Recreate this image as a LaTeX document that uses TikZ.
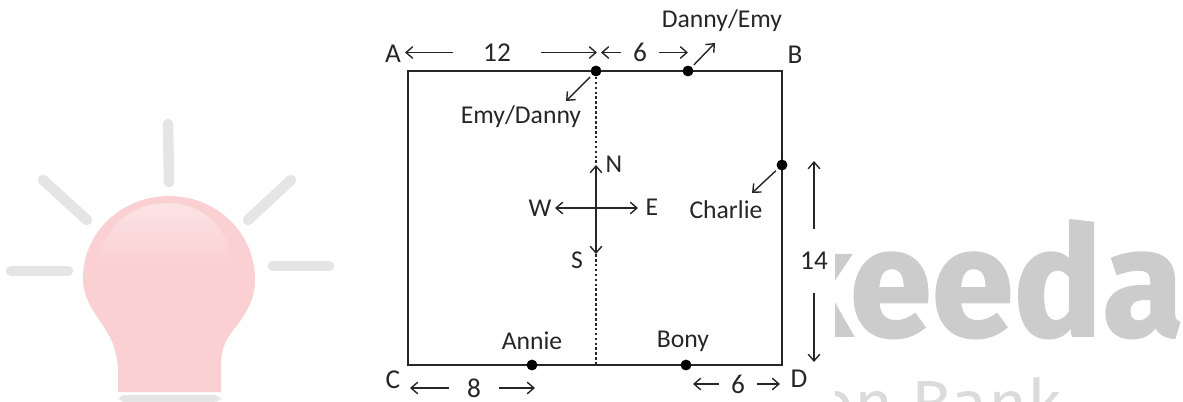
\documentclass[tikz,border=0pt]{standalone}
\usepackage{fontspec}
\setmainfont{Carlito}
\newfontfamily\markfont{Fira Sans}[BoldFeatures={FakeBold=1.2,FakeStretch=0.97}]
\usetikzlibrary{arrows.meta}
\definecolor{inkc}{HTML}{262626}
\definecolor{bulbc}{HTML}{FAD0D3}
\definecolor{rayc}{HTML}{E5E5E5}
\definecolor{markc}{HTML}{CCCCCC}
\tikzset{
  lbl/.style={text=inkc, font=\fontsize{14.6pt}{16pt}\selectfont, inner sep=0pt},
  numlbl/.style={text=inkc, font=\fontsize{15.5pt}{17pt}\selectfont, inner sep=0pt},
  person/.style={circle, fill=black, inner sep=0pt, minimum size=6.2pt},
  arr/.style={->, inkc, line width=0.8pt, >={Straight Barb[length=3.8pt,width=6.6pt]}},
  ray/.style={rayc, line width=6pt, line cap=round}
}

\begin{document}
\begin{tikzpicture}[x=0.02cm, y=-0.02cm]
  \useasboundingbox (0,0) rectangle (1183,402);

  % Draw bulb and rays
  \foreach \i/\x/\y/\u/\v in {top/168/124/169/182, upl/43/180/87/220, upr/291/180/248/220, lef/11/271/68/271, rig/273/266/329/266} {
    \draw[ray] (\x,\y) -- (\u,\v);
  }
  \fill[bulbc] (118,392) -- (118,368) .. controls (116,340) and (105,330) .. (96,315)
    .. controls (86,300) and (83,290) .. (83,278) .. controls (83,232) and (122,196) .. (169,196)
    .. controls (216,196) and (255,232) .. (255,280) .. controls (255,300) and (245,315) .. (235,328)
    .. controls (225,340) and (221,350) .. (221,365) -- (221,392) -- cycle;
  \shade[top color=white!40!bulbc, bottom color=bulbc] (98,262) .. controls (102,230) and (130,203) .. (167,203)
    .. controls (205,203) and (228,230) .. (233,262) -- cycle;
  \fill[rayc, rounded corners=4pt] (118,402) -- (118,395) -- (221,395) -- (221,402) -- cycle;

  % Draw name of the mark
  \begin{scope}
    \clip (835,0) rectangle (1183,402);
    \node[markc, anchor=base east, inner sep=0pt, font=\markfont\bfseries\fontsize{87pt}{90pt}\selectfont] (markword) at (1184,336) {keeda};
    \node[markc!70, anchor=base west, inner sep=0pt, font=\markfont\fontsize{38pt}{40pt}\selectfont] (markbank) at (815,427) {on Bank};
  \end{scope}

  % Draw field
  \foreach \name/\x/\y in {cornerA/408/71, cornerB/782/71, cornerC/408/365, cornerD/782/365, compass/596/208, footS/596/365} {
    \coordinate (\name) at (\x,\y);
  }
  \draw[inkc, line width=0.85pt] (cornerA) -- (cornerB) -- (cornerD) -- (cornerC) -- cycle;

  % Draw points
  \foreach \name/\x/\y in {emy/596/71, danny/688/71, charlie/782/165, annie/532/365, bony/686/365} {
    \node[person] (\name) at (\x,\y) {};
  }

  % Labels
  \foreach \name/\x/\y/\txt in {lblN/614/164/N, lblW/540/208/W, lblE/652/207/E, lblS/577/260/S, lblDanny/722/21/Danny\slash Emy, lblEmy/521/117/Emy\slash Danny, lblCharlie/726/210/Charlie, lblAnnie/532/341/Annie, lblBony/683/341/Bony} {
    \node[lbl] (\name) at (\x,\y) {\txt};
  }
  \foreach \name/\x/\y/\txt in {lblA/393/54/A, lblB/795/55/B, lblC/393/380/C, lblD/799/379/D} {
    \node[numlbl] (\name) at (\x,\y) {\txt};
  }

  % Lengths, the gap of each arrow is the width of its node
  \node[numlbl, minimum width=50pt] (lenTwelve) at (497,52.5) {12};
  \node[numlbl, minimum width=21pt] (lenSix) at (640,52.5) {6};
  \node[numlbl, minimum width=28pt] (lenEight) at (474,388) {8};
  \node[numlbl, minimum width=21pt] (lenSixB) at (738,384) {6};
  \node[numlbl, minimum height=36pt] (lenFourteen) at (814,261) {14};

  % Arrow tips
  \foreach \name/\x/\y in {tipA/405/52.5, tipMidL/597/52.5, tipMidR/601/52.5, tipDanny/688/52.5, tipC/410/388, tipAnnie/535/388, tipBony/693/384, tipD/780/384, tipUp/814/161, tipDown/814/362, tipN/596/165, tipS/596/254, tipW/555/208, tipE/638/208, outDanny/715/43, outEmy/566/101, outCharlie/752/193} {
    \coordinate (\name) at (\x,\y);
  }

  % Draw lengths
  \foreach \from/\to in {lenTwelve.west/tipA, lenTwelve.east/tipMidL, lenSix.west/tipMidR, lenSix.east/tipDanny, lenEight.west/tipC, lenEight.east/tipAnnie, lenSixB.west/tipBony, lenSixB.east/tipD, lenFourteen.north/tipUp, lenFourteen.south/tipDown} {
    \draw[arr] (\from) -- (\to);
  }

  % Draw compass
  \foreach \to in {tipN, tipS, tipW, tipE} {
    \draw[arr] (compass) -- (\to);
  }
  \draw[inkc, line width=0.9pt, dash pattern=on 1.5pt off 1.3pt] (emy) -- (tipN);
  \draw[inkc, line width=0.9pt, dash pattern=on 1.5pt off 1.3pt] (tipS) -- (footS);

  % Draw how each one walks off
  \foreach \from/\to in {danny/outDanny, emy/outEmy, charlie/outCharlie} {
    \draw[arr, shorten <=1.5pt] (\from) -- (\to);
  }
\end{tikzpicture}
\end{document}
